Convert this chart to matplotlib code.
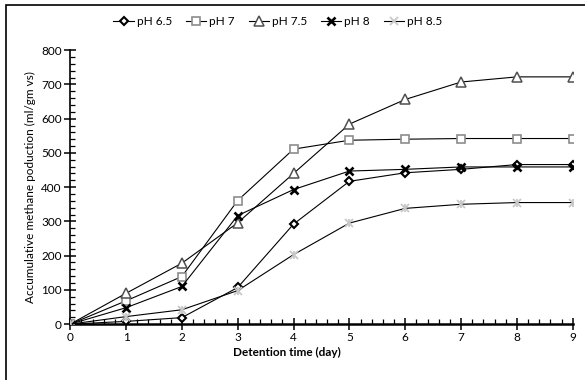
import matplotlib

matplotlib.use("Agg")
import matplotlib.pyplot as plt
from matplotlib.lines import Line2D
from matplotlib.patches import Rectangle
from matplotlib.ticker import MultipleLocator

plt.rcParams["font.family"] = ["Lato", "DejaVu Sans"]

days = [0, 1, 2, 3, 4, 5, 6, 7, 8, 9]
ph_65 = [0, 8, 19, 107, 292, 417, 442, 452, 466, 466]
ph_7 = [0, 68, 139, 361, 511, 537, 540, 542, 542, 542]
ph_75 = [0, 90, 178, 296, 440, 584, 656, 707, 722, 722]
ph_8 = [0, 48, 110, 317, 393, 447, 452, 459, 459, 459]
ph_85 = [0, 22, 42, 98, 203, 295, 338, 350, 355, 355]
labels = ["pH 6.5", "pH 7", "pH 7.5", "pH 8", "pH 8.5"]

styles = [
    dict(marker="D", ms=4, mfc="white", mec="black", mew=1.5),
    dict(marker="s", ms=6, mfc="white", mec="#8c8c8c", mew=1.2),
    dict(marker="^", ms=6.5, mfc="white", mec="#505050", mew=1.1),
    dict(marker="x", ms=6, mec="black", mew=1.9),
    dict(marker="x", ms=5.5, mec="#c8c8c8", mew=1.3),
]

fig = plt.figure(figsize=(5.85, 3.80), dpi=100)
ax = fig.add_axes([0.12, 0.147, 0.859, 0.721])

handles = []
for label, vals, style in zip(labels, [ph_65, ph_7, ph_75, ph_8, ph_85], styles):
    (h,) = ax.plot(days, vals, color="black", lw=0.8, label=label, zorder=3, **style)
    handles.append(h)

# vertical bar to turn the pH 8.5 cross into an asterisk
ax.plot(days, ph_85, ls="none", marker="|", ms=5.5, mec="#c8c8c8", mew=1.3, zorder=4)

ax.set_xlim(0, 9)
ax.set_ylim(0, 800)
ax.xaxis.set_major_locator(MultipleLocator(1))
ax.xaxis.set_minor_locator(MultipleLocator(0.2))
ax.yaxis.set_major_locator(MultipleLocator(100))
ax.yaxis.set_minor_locator(MultipleLocator(20))
ax.spines["top"].set_visible(False)
ax.spines["right"].set_visible(False)
ax.spines["bottom"].set_linewidth(1.8)
ax.spines["left"].set_linewidth(1.2)
ax.tick_params(which="major", direction="inout", length=8, width=1.1, labelsize=8.5, pad=2)
ax.tick_params(which="minor", direction="in", length=3.5, width=0.9)
ax.set_xlabel("Detention time (day)", fontsize=8.5, fontweight="bold", labelpad=4)
ax.xaxis.set_label_coords(0.431, -0.085)
ax.set_ylabel("Accumulative methane poduction (ml/gm vs)", fontsize=8.5, labelpad=4)

fig.legend(handles, labels, loc="upper center", ncol=5,
           bbox_to_anchor=(0.475, 0.985), frameon=False, fontsize=8.5,
           handlelength=1.7, columnspacing=1.2, handletextpad=0.25)

fig.patches.append(Rectangle((0.010, -0.05), 1.5, 1.037, transform=fig.transFigure,
                             fill=False, ec="black", lw=1.2))

fig.savefig("out.png", dpi=100)
